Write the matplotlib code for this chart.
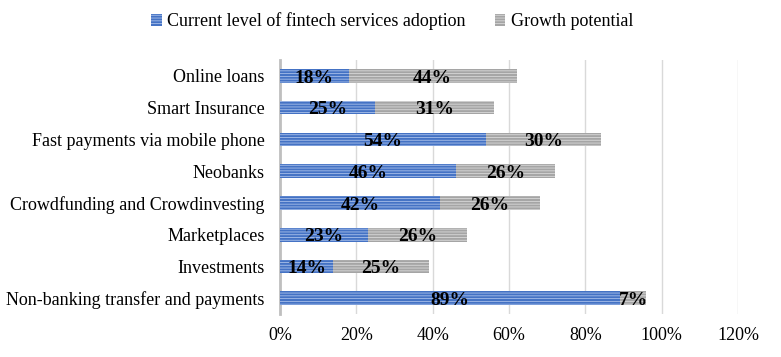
import matplotlib
matplotlib.use('Agg')
import matplotlib.pyplot as plt
import numpy as np

plt.rcParams['font.family'] = ['Liberation Serif', 'DejaVu Serif']
plt.rcParams['hatch.linewidth'] = 0.6

categories = ['Online loans', 'Smart Insurance', 'Fast payments via mobile phone', 'Neobanks',
              'Crowdfunding and Crowdinvesting', 'Marketplaces', 'Investments',
              'Non-banking transfer and payments']
current = [18, 25, 54, 46, 42, 23, 14, 89]
growth = [44, 31, 30, 26, 26, 26, 25, 7]

fig = plt.figure(figsize=(7.81, 3.57), dpi=100)
ax = fig.add_axes([0.3585, 0.12, 0.5865, 0.712])

y = np.arange(len(categories))
cur = np.array(current) / 100
gro = np.array(growth) / 100

b1 = ax.barh(y, cur, height=0.43, color='#4472C4', edgecolor='#A9C0EA', linewidth=0,
             hatch='------', label='Current level of fintech services adoption', zorder=3)
b2 = ax.barh(y, gro, left=cur, height=0.43, color='#A5A5A5', edgecolor='#D9D9D9', linewidth=0,
             hatch='------', label='Growth potential', zorder=3)

for i in range(len(categories)):
    ax.text(cur[i] / 2, y[i] + 0.07, '%d%%' % current[i], ha='center', va='center',
            fontsize=14, fontweight='bold', zorder=4)
    ax.text(cur[i] + gro[i] / 2, y[i] + 0.07, '%d%%' % growth[i], ha='center', va='center',
            fontsize=14, fontweight='bold', zorder=4)

ax.set_ylim(len(categories) - 0.5, -0.5)
ax.set_xlim(0, 1.2)
ax.set_yticks(y)
ax.set_yticklabels(categories, fontsize=13)
ax.set_xticks(np.arange(0, 1.21, 0.2))
ax.set_xticklabels(['%d%%' % v for v in range(0, 121, 20)], fontsize=13)
ax.tick_params(axis='y', length=0, pad=11)
ax.tick_params(axis='x', length=0, pad=9)
ax.xaxis.grid(True, color='#D9D9D9', linewidth=1, zorder=0)
for s in ['top', 'right', 'bottom']:
    ax.spines[s].set_visible(False)
ax.spines['left'].set_color('#BFBFBF')
ax.spines['left'].set_linewidth(2)

fig.legend(handles=[b1, b2], loc='center', bbox_to_anchor=(0.502, 0.94), ncol=2, frameon=False,
           fontsize=13, handlelength=0.6, handleheight=0.6, columnspacing=1.6, handletextpad=0.3)

fig.savefig('out.png', dpi=100)
